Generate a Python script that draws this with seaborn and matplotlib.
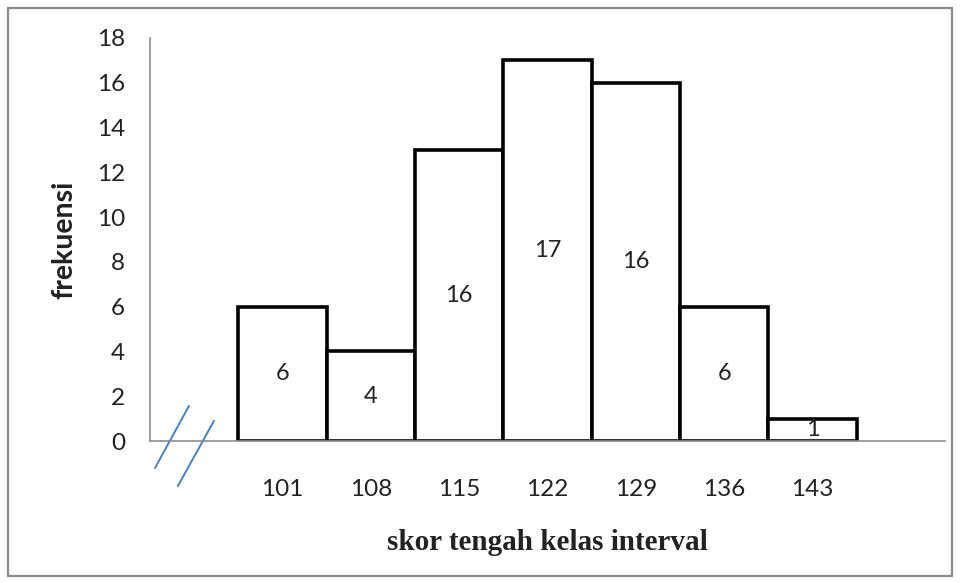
import matplotlib
matplotlib.use("Agg")
import matplotlib.pyplot as plt
from matplotlib.patches import Rectangle
import seaborn as sns

# data
kelas = ["101", "108", "115", "122", "129", "136", "143"]
frekuensi = [6, 4, 13, 17, 16, 6, 1]
bar_text = ["6", "4", "16", "17", "16", "6", "1"]

sns.set_style("white")
plt.rcParams["font.family"] = ["Lato", "DejaVu Sans"]

fig = plt.figure(figsize=(9.6, 5.83), dpi=100)
ax = fig.add_axes([150 / 960, 142 / 583, 795 / 960, 403 / 583])

sns.barplot(x=kelas, y=frekuensi, color="white", saturation=1, width=1.0,
            edgecolor="black", linewidth=2.6, ax=ax)

# numbers written inside the bars
ax.bar_label(ax.containers[0], labels=bar_text, label_type="center",
             fontsize=17, color="#222222")

ax.set_xlim(-1.5, 7.5)
ax.set_ylim(0, 18)
ax.set_yticks(range(0, 19, 2))
ax.tick_params(axis="both", length=0, labelsize=17.5, colors="#222222")
ax.tick_params(axis="x", pad=27)
ax.tick_params(axis="y", pad=18)

for side in ["top", "right"]:
    ax.spines[side].set_visible(False)
for side in ["left", "bottom"]:
    ax.spines[side].set_color("#8c8c8c")
    ax.spines[side].set_linewidth(1.2)

ax.set_ylabel("frekuensi", fontsize=20.5, fontweight="bold", labelpad=14,
              color="#222222")
ax.set_xlabel("skor tengah kelas interval", fontsize=21, fontweight="bold",
              family="Liberation Serif", labelpad=21, color="#222222")

# axis break marks
brk = dict(color="#4a7ebb", lw=1.4, transform=ax.transAxes, clip_on=False)
ax.plot([0.0063, 0.049], [-0.067, 0.087], **brk)
ax.plot([0.035, 0.0805], [-0.112, 0.050], **brk)

# frame around the whole picture
fig.patches.append(Rectangle((8 / 960, 7 / 583), 944 / 960, 568 / 583,
                             transform=fig.transFigure, fill=False,
                             edgecolor="#8a8a8a", linewidth=1.6))

fig.savefig("out.png", dpi=100)
